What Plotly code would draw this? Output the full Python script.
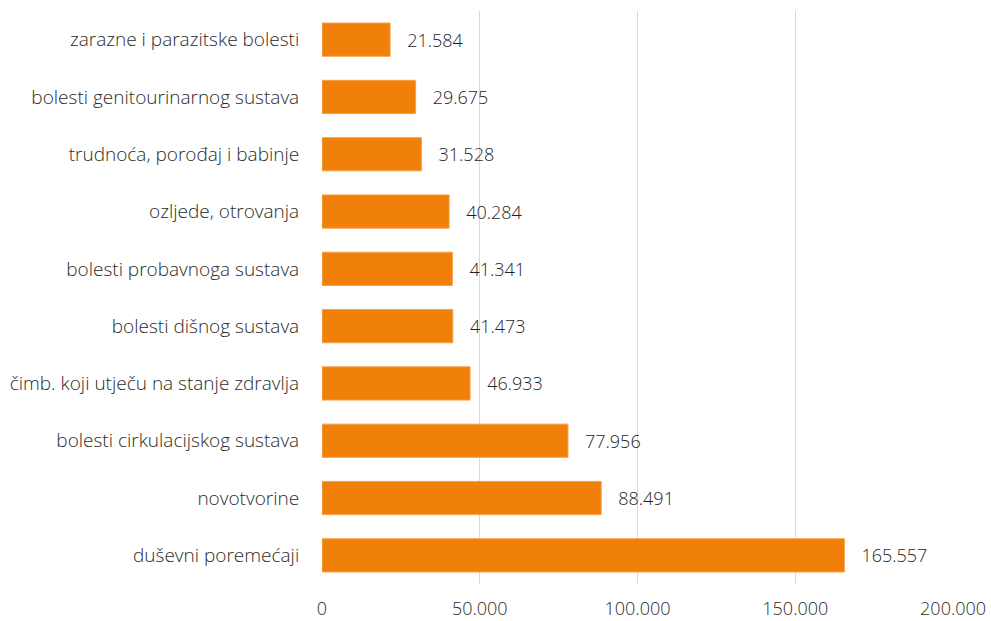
import plotly.graph_objects as go

categories = [
    "zarazne i parazitske bolesti",
    "bolesti genitourinarnog sustava",
    "trudnoća, porođaj i babinje",
    "ozljede, otrovanja",
    "bolesti probavnoga sustava",
    "bolesti dišnog sustava",
    "čimb. koji utječu na stanje zdravlja",
    "bolesti cirkulacijskog sustava",
    "novotvorine",
    "duševni poremećaji",
]
values = [21584, 29675, 31528, 40284, 41341, 41473, 46933, 77956, 88491, 165557]
tick_vals = [0, 50000, 100000, 150000, 200000]
tick_text = ["0", "50.000", "100.000", "150.000", "200.000"]

def fmt(v):
    return "{:,}".format(v).replace(",", ".")

labels = ["   " + fmt(v) for v in values]

FONT = "Open Sans"
TXT = "#2b2b2b"

fig = go.Figure(go.Bar(
    x=values,
    y=categories,
    orientation="h",
    marker=dict(color="#F0800A", line=dict(color="#F7A24A", width=1)),
    text=labels,
    textposition="outside",
    textfont=dict(family=FONT, size=18, color="#1f1f1f", weight=300),
    cliponaxis=False,
    hoverinfo="skip",
))

fig.update_layout(
    width=991, height=621,
    margin=dict(l=322, r=37, t=11, b=37),
    paper_bgcolor="white", plot_bgcolor="white",
    bargap=0.42,
    showlegend=False,
    font=dict(family=FONT, size=18, color=TXT, weight=300),
    separators=",.",
    xaxis=dict(
        range=[0, 200300],
        tickvals=tick_vals, ticktext=tick_text,
        showgrid=True, gridcolor="#D9D9D9", gridwidth=1,
        zeroline=False, showline=False,
        ticks="outside", ticklen=8, tickcolor="rgba(0,0,0,0)",
        tickfont=dict(family=FONT, size=18, color=TXT, weight=300),
        automargin=False,
        fixedrange=True,
    ),
    yaxis=dict(
        categoryorder="array", categoryarray=categories,
        autorange="reversed",
        showgrid=False, zeroline=False, showline=False,
        ticks="outside", ticklen=18, tickcolor="rgba(0,0,0,0)",
        tickfont=dict(family=FONT, size=19, color=TXT, weight=300),
        automargin=False,
        fixedrange=True,
    ),
)

fig.write_html(
    "out.html",
    config={"displayModeBar": False},
    post_script="document.body.style.margin='0';document.body.style.overflow='hidden';",
)
